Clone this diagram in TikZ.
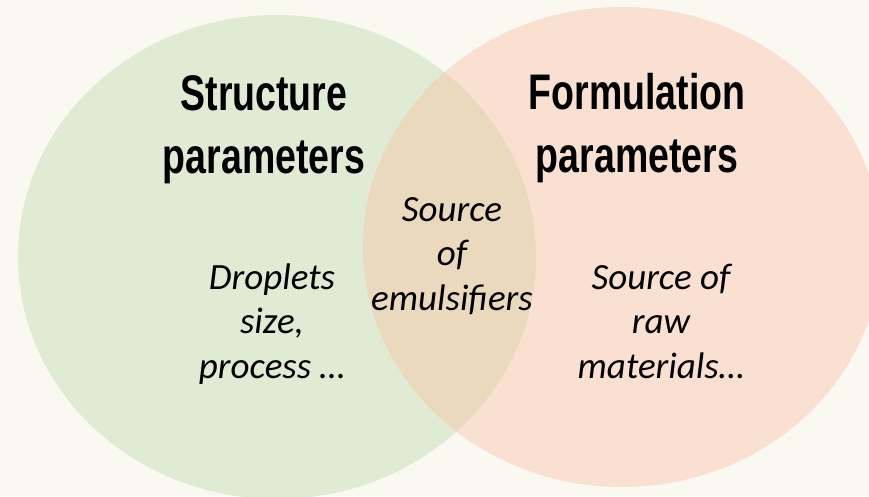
\documentclass[tikz,border=0pt]{standalone}
\usepackage{fontspec}
\setmainfont{Carlito}
\newfontfamily\titlefont[FakeStretch=0.75]{Liberation Sans Bold}
\definecolor{bgcol}{HTML}{F9F8F1}
\definecolor{greencol}{HTML}{E0EBD3}
\definecolor{orangecol}{HTML}{F9E0D0}
\definecolor{overlapcol}{HTML}{EAD9BC}
\begin{document}
\begin{tikzpicture}[x=1pt,y=-1pt,
  titletext/.style={align=center,inner sep=0pt,anchor=base,font={\titlefont\fontsize{50}{63}\selectfont}},
  bodytext/.style={align=center,inner sep=0pt,anchor=base,font={\itshape\fontsize{37}{44.5}\selectfont}}]
\fill[bgcol] (0,0) rectangle (869,496);
\useasboundingbox (0,0) rectangle (869,496);
\fill[greencol] (277,257) ellipse [x radius=259, y radius=242];
\fill[orangecol] (622,247) ellipse [x radius=259, y radius=240];
\begin{scope}
  \clip (277,257) ellipse [x radius=259, y radius=242];
  \fill[overlapcol] (622,247) ellipse [x radius=259, y radius=240];
\end{scope}
\node[titletext] (structure) at (264,173) {Structure\\parameters};
\node[titletext] (formulation) at (637,172) {Formulation\\parameters};
\node[bodytext] (droplets) at (272,378) {Droplets\\size,\\process \dots};
\node[bodytext] (emuls) at (452,310) {Source\\of\\emulsifiers};
\node[bodytext] (raw) at (661,378) {Source of\\raw\\materials\dots};
\end{tikzpicture}
\end{document}
